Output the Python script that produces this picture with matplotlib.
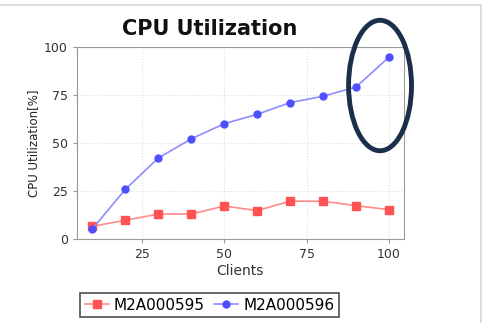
import matplotlib
matplotlib.use("Agg")
import matplotlib.pyplot as plt
import matplotlib.patches as patches

# Data
clients = [10, 20, 30, 40, 50, 60, 70, 80, 90, 100]
m2a595 = [6.6, 9.8, 13.0, 13.0, 17.2, 14.8, 19.7, 19.7, 17.4, 15.3]
m2a596 = [5.3, 25.9, 42.2, 52.2, 60.1, 65.0, 71.1, 74.4, 79.2, 94.8]
series_names = ["M2A000595", "M2A000596"]
x_ticks = [25, 50, 75, 100]
y_ticks = [0, 25, 50, 75, 100]

fig = plt.figure(figsize=(4.93, 3.23), dpi=100)
fig.patch.set_facecolor("white")

# light frame around the screenshot
fig.add_artist(patches.Rectangle((-0.01, -0.05), 0.986, 1.035, transform=fig.transFigure,
                                 fill=False, edgecolor="#d8d8d8", linewidth=1.2))

ax = fig.add_axes([0.156, 0.26, 0.663, 0.594])
ax.plot(clients, m2a595, color="#ff8a8a", linewidth=1.2, marker="s", markersize=6,
        markerfacecolor="#ff5252", markeredgecolor="#ff5252", label=series_names[0])
ax.plot(clients, m2a596, color="#8c8cff", linewidth=1.2, marker="o", markersize=5,
        markerfacecolor="#4f4fff", markeredgecolor="#4f4fff", label=series_names[1])

ax.set_xlim(5.3, 104.5)
ax.set_ylim(0, 100)
ax.set_xticks(x_ticks)
ax.set_yticks(y_ticks)
ax.grid(True, color="#dddddd", linestyle=":", linewidth=0.8)
for s in ax.spines.values():
    s.set_color("#9a9a9a")
ax.tick_params(colors="#9a9a9a", labelcolor="#333333", labelsize=9, length=3)

ax.set_xlabel("Clients", fontsize=10, color="#333333", labelpad=2)
ax.set_ylabel("CPU Utilization[%]", fontsize=8.5, color="#222222", labelpad=3)
fig.text(0.425, 0.91, "CPU Utilization", fontsize=15, fontweight="bold",
         ha="center", va="center", color="#111111")

# annotation ellipse around the last points
ax.add_patch(patches.Ellipse((97.3, 80), 19.1, 68, fill=False, edgecolor="#1b2f4b",
                             linewidth=3.5, clip_on=False, zorder=10))

leg = fig.legend(loc="center", bbox_to_anchor=(0.425, 0.055), ncol=2,
                 fontsize=11, frameon=True, fancybox=False, handlelength=1.6,
                 handletextpad=0.3, columnspacing=0.6, borderpad=0.3)
leg.get_frame().set_edgecolor("#222222")
leg.get_frame().set_linewidth(1.2)

fig.savefig("out.png", dpi=100)
